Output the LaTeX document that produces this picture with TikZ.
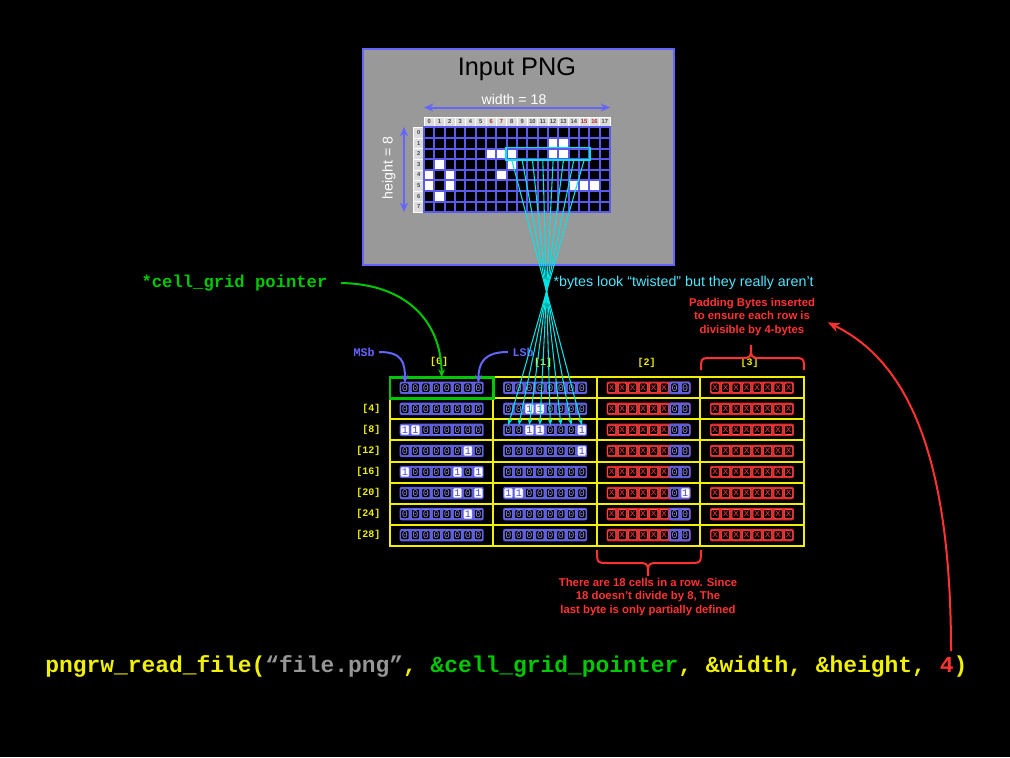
\documentclass[tikz,border=0pt]{standalone}
\usepackage{fontspec}
\setmainfont{Liberation Sans}
\setmonofont{Liberation Mono}
\usetikzlibrary{arrows.meta}
\definecolor{pngblue}{RGB}{100,100,255}
\definecolor{gridblue}{RGB}{90,90,235}
\definecolor{pnggray}{RGB}{153,153,153}
\definecolor{hdrgray}{RGB}{220,220,220}
\definecolor{hdrtext}{RGB}{70,70,70}
\definecolor{hdrred}{RGB}{170,40,40}
\definecolor{cyanline}{RGB}{0,230,230}
\definecolor{cyantext}{RGB}{80,230,255}
\definecolor{ylw}{RGB}{240,240,0}
\definecolor{grn}{RGB}{0,200,0}
\definecolor{redc}{RGB}{255,50,50}
\definecolor{bytblue}{RGB}{92,92,230}
\definecolor{bitedge}{RGB}{125,125,245}
\definecolor{bitzero}{RGB}{140,140,235}
\definecolor{bitonetext}{RGB}{70,70,220}
\definecolor{bitoneedge}{RGB}{200,200,255}
\definecolor{bytred}{RGB}{230,40,40}
\definecolor{bitredge}{RGB}{255,90,90}
\definecolor{codegray}{RGB}{150,150,150}
\newcommand\setwhite[1]{\expandafter\def\csname wpix#1\endcsname{}}
\setwhite{1-12}\setwhite{1-13}
\setwhite{2-6}\setwhite{2-7}\setwhite{2-8}\setwhite{2-12}\setwhite{2-13}
\setwhite{3-1}\setwhite{3-8}
\setwhite{4-0}\setwhite{4-2}\setwhite{4-7}
\setwhite{5-0}\setwhite{5-2}\setwhite{5-14}\setwhite{5-15}\setwhite{5-16}
\setwhite{6-1}
\newcommand\bitnode[4]{%
  \if x#3\relax
    \node[bitx] (#4) at (#1,#2) {x};%
  \else\if 1#3\relax
    \node[bitone] (#4) at (#1,#2) {1};%
  \else
    \node[bitzero] (#4) at (#1,#2) {0};%
  \fi\fi}
\begin{document}
\begin{tikzpicture}[x=0.75pt,y=-0.75pt,
  pix/.style={draw=gridblue, line width=1.5pt, minimum width=7.75pt, minimum height=7.95pt, inner sep=0pt},
  hdr/.style={fill=hdrgray, draw=white, line width=0.3pt, inner sep=0pt, minimum width=7.75pt, minimum height=7.5pt, font=\bfseries\fontsize{4.3}{5}\selectfont, text=hdrtext},
  tcell/.style={draw=ylw, line width=1.5pt, minimum width=77.55pt, minimum height=15.79pt, inner sep=0pt, outer sep=0pt},
  bitbase/.style={inner sep=0pt, minimum width=6pt, minimum height=6.9pt, rounded corners=0.8pt, line width=0.4pt, font=\ttfamily\fontsize{7.6}{7.6}\selectfont},
  bitzero/.style={bitbase, fill=black, draw=bitedge, text=bitzero},
  bitone/.style={bitbase, fill=white, draw=bitoneedge, text=bitonetext},
  bitx/.style={bitbase, fill=black, draw=bitredge, text=redc},
  lab/.style={font=\ttfamily\bfseries\fontsize{7.5}{8}\selectfont, text=ylw},
  redtxt/.style={text=redc, font=\bfseries\fontsize{8.5}{10.4}\selectfont, align=center},
  bluearrow/.style={draw=pngblue, line width=1.5pt},
]
\path[fill=black] (0,0) rectangle (1010,757);

% ---------- Input PNG panel ----------
\node[draw=pngblue, fill=pnggray, line width=1.5pt, minimum width=233.25pt, minimum height=162pt, inner sep=0pt, anchor=north west] (pngbox) at (362,48) {};
\node[font=\fontsize{19}{22}\selectfont] (title) at (517,69) {Input PNG};
\node[text=white, font=\fontsize{10.6}{12}\selectfont] (wlabel) at (514,99) {width = 18};
\coordinate (wl) at (424,107.5);
\coordinate (wr) at (610,107.5);
\draw[bluearrow, {Stealth[length=7pt,width=6pt]}-{Stealth[length=7pt,width=6pt]}] (wl) -- (wr);
\node[text=white, rotate=90, font=\fontsize{10.6}{12}\selectfont] (hlabel) at (389,168) {height = 8};
\coordinate (ht) at (404,127);
\coordinate (hb) at (404,212);
\draw[bluearrow, {Stealth[length=7pt,width=6pt]}-{Stealth[length=7pt,width=6pt]}] (ht) -- (hb);

% headers
\foreach \cc in {0,...,17}{
  \ifnum\cc=6 \def\hc{hdrred}\else\ifnum\cc=7 \def\hc{hdrred}\else\ifnum\cc=15 \def\hc{hdrred}\else\ifnum\cc=16 \def\hc{hdrred}\else\def\hc{hdrtext}\fi\fi\fi\fi
  \node[hdr, text=\hc] (hc-\cc) at ({424+10.33*(\cc+0.5)},121.7) {\cc};
}
\foreach \rr in {0,...,7}{
  \node[hdr, minimum width=7.8pt, minimum height=7.95pt] (hr-\rr) at (418.7,{127.3+10.6*(\rr+0.5)}) {\rr};
}
% pixels
\foreach \rr in {0,...,7}{
  \foreach \cc in {0,...,17}{
    \ifcsname wpix\rr-\cc\endcsname\def\fc{white}\else\def\fc{black}\fi
    \node[pix, fill=\fc] (p-\rr-\cc) at ({424+10.33*(\cc+0.5)},{127.3+10.6*(\rr+0.5)}) {};
  }
}
\draw[cyanline, line width=1.4pt] (p-2-8.north west) rectangle (p-2-15.south east);

% ---------- Byte table ----------
\foreach \rr in {0,...,7}{
  \foreach \b in {0,...,3}{
    \node[tcell] (c-\rr-\b) at ({390+103.4*(\b+0.5)},{377.3+21.05*(\rr+0.5)}) {};
  }
}
\draw[grn, line width=2pt] (c-0-0.north west) rectangle (c-0-0.south east);

\foreach \rr/\A/\B/\C in {
  0/{0,0,0,0,0,0,0,0}/{0,0,0,0,0,0,0,0}/{0,0},
  1/{0,0,0,0,0,0,0,0}/{0,0,1,1,0,0,0,0}/{0,0},
  2/{1,1,0,0,0,0,0,0}/{0,0,1,1,0,0,0,1}/{0,0},
  3/{0,0,0,0,0,0,1,0}/{0,0,0,0,0,0,0,1}/{0,0},
  4/{1,0,0,0,0,1,0,1}/{0,0,0,0,0,0,0,0}/{0,0},
  5/{0,0,0,0,0,1,0,1}/{1,1,0,0,0,0,0,0}/{0,1},
  6/{0,0,0,0,0,0,1,0}/{0,0,0,0,0,0,0,0}/{0,0},
  7/{0,0,0,0,0,0,0,0}/{0,0,0,0,0,0,0,0}/{0,0}}{
  \pgfmathsetmacro\cy{387.8+21.05*\rr}
  % backgrounds
  \fill[bytblue, rounded corners=1.5pt] ({441.7-42},{\cy-6.2}) rectangle ({441.7+42},{\cy+6.2});
  \fill[bytblue, rounded corners=1.5pt] ({545.1-42},{\cy-6.2}) rectangle ({545.1+42},{\cy+6.2});
  \fill[bytred, rounded corners=1.5pt] ({648.5-42},{\cy-6.2}) rectangle ({648.5+42},{\cy+6.2});
  \fill[bytblue, rounded corners=1.5pt] ({648.5+20.5},{\cy-6.2}) rectangle ({648.5+42},{\cy+6.2});
  \fill[bytblue] ({648.5+20.5},{\cy-6.2}) rectangle ({648.5+25},{\cy+6.2});
  \fill[bytred, rounded corners=1.5pt] ({751.9-42},{\cy-6.2}) rectangle ({751.9+42},{\cy+6.2});
  % bits
  \foreach \v [count=\k from 0] in \A {
    \pgfmathsetmacro\bx{441.7+(\k-3.5)*10.5}
    \bitnode{\bx}{\cy}{\v}{bit-\rr-0-\k}
  }
  \foreach \v [count=\k from 0] in \B {
    \pgfmathsetmacro\bx{545.1+(\k-3.5)*10.5}
    \bitnode{\bx}{\cy}{\v}{bit-\rr-1-\k}
  }
  \foreach \k in {0,...,5}{
    \pgfmathsetmacro\bx{648.5+(\k-3.5)*10.5}
    \bitnode{\bx}{\cy}{x}{bit-\rr-2-\k}
  }
  \foreach \v [count=\k from 6] in \C {
    \pgfmathsetmacro\bx{648.5+(\k-3.5)*10.5}
    \bitnode{\bx}{\cy}{\v}{bit-\rr-2-\k}
  }
  \foreach \k in {0,...,7}{
    \pgfmathsetmacro\bx{751.9+(\k-3.5)*10.5}
    \bitnode{\bx}{\cy}{x}{bit-\rr-3-\k}
  }
}

% row labels
\foreach \rr in {1,...,7}{
  \pgfmathtruncatemacro\n{4*\rr}
  \node[lab, anchor=east] (rl-\rr) at (385,{387.8+21.05*\rr}) {[\n]};
}
% column labels
\node[lab] (cl-0) at (439,362) {[0]};
\node[lab] (cl-1) at (543,362.5) {[1]};
\node[lab] (cl-2) at (646.5,363) {[2]};
\node[lab] (cl-3) at (749.5,363) {[3]};

% MSb / LSb
\node[text=pngblue, font=\ttfamily\bfseries\fontsize{8.75}{9}\selectfont] (msb) at (364,352) {MSb};
\node[text=pngblue, font=\ttfamily\bfseries\fontsize{8.75}{9}\selectfont] (lsb) at (523,352) {LSb};
\draw[bluearrow, -{Stealth[length=6pt,width=5pt]}] (msb.east) .. controls (402,352) and (405,362) .. (bit-0-0-0.north);
\draw[bluearrow, -{Stealth[length=6pt,width=5pt]}] (lsb.west) .. controls (485,352) and (478.5,362) .. (bit-0-0-7.north);

% cyan twisted lines
\foreach \k in {0,...,7}{
  \pgfmathtruncatemacro\s{8+\k}
  \pgfmathtruncatemacro\t{7-\k}
  \draw[cyanline, line width=0.8pt, -{Stealth[length=4.5pt,width=3.5pt]}] (p-2-\s.south) -- (bit-2-1-\t.north);
}
\node[text=cyantext, anchor=west, font=\fontsize{10.7}{12}\selectfont, inner sep=1pt] (twist) at (552,283) {*bytes look “twisted" but they really aren't};

% green pointer
\node[text=grn, anchor=west, font=\ttfamily\bfseries\fontsize{12.9}{14}\selectfont, inner sep=1pt] (gptr) at (140,283) {*cell\_grid pointer};
\draw[grn, line width=1.5pt, -{Stealth[length=6pt,width=5pt]}] ([xshift=9pt]gptr.east) .. controls (405,284) and (441,320) .. (c-0-0.north);

% padding annotation
\node[redtxt] (padtxt) at (752,317) {Padding Bytes inserted\\to ensure each row is\\divisible by 4-bytes};
\draw[redc, line width=1.5pt] (701,370) .. controls (701,358) .. (713,358) -- (740,358) .. controls (751,358) .. (751,345) .. controls (751,358) .. (762,358) -- (792,358) .. controls (804,358) .. (804,370);

% bottom annotation
\draw[redc, line width=1.5pt] (597,550) .. controls (597,563) .. (609,563) -- (636,563) .. controls (648,563) .. (648,576) .. controls (648,563) .. (660,563) -- (689,563) .. controls (701,563) .. (701,550);
\node[redtxt] (bottxt) at (648,597) {There are 18 cells in a row. Since\\18 doesn't divide by 8, The\\last byte is only partially defined};

% code line
\node[anchor=west, inner sep=0pt, font=\ttfamily\bfseries\fontsize{17.2}{20}\selectfont] (code) at (45,666) {\textcolor{ylw}{pngrw\_read\_file(}\textcolor{codegray}{“file.png”}\textcolor{ylw}{, }\textcolor{grn}{\&cell\_grid\_pointer}\textcolor{ylw}{, \&width, \&height, }\textcolor{redc}{4}\textcolor{ylw}{)}};
\coordinate (four) at (951,651);
\draw[redc, line width=1.5pt, -{Stealth[length=9pt,width=7pt]}] (four) .. controls (951,450) and (905,360) .. ([xshift=6pt,yshift=-4pt]padtxt.east);
\end{tikzpicture}
\end{document}
